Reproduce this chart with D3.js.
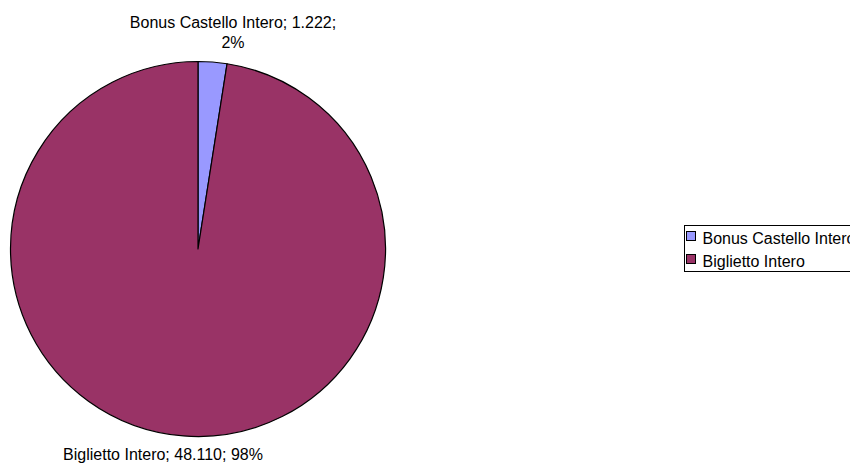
<!DOCTYPE html>
<html><head><meta charset="utf-8">
<script src="https://cdn.jsdelivr.net/npm/d3@7/dist/d3.min.js"></script>
<style>body{margin:0;background:#fff;overflow:hidden;} svg{display:block;font-family:"Liberation Sans",Arial,sans-serif;}</style>
</head><body>
<script>
const categories = ["Bonus Castello Intero", "Biglietto Intero"];
const values = [1222, 48110];
const valueLabels = ["1.222", "48.110"];
const percentLabels = ["2%", "98%"];
const colors = ["#9999FF", "#993366"];

const W = 850, H = 464;
const svg = d3.select("body").append("svg").attr("width", W).attr("height", H);
const cx = 198, cy = 249, r = 187.5;

const pie = d3.pie().sort(null).value(d => d)(values);
const arc = d3.arc().innerRadius(0).outerRadius(r);
const g = svg.append("g").attr("transform", `translate(${cx},${cy})`);
g.selectAll("path").data(pie).enter().append("path")
  .attr("d", arc).attr("fill", (d, i) => colors[i])
  .attr("stroke", "#000").attr("stroke-width", 1.2).attr("stroke-linejoin", "round");

// Labels
const fs = 16;
const t1 = svg.append("text").attr("text-anchor", "middle").attr("font-size", fs).attr("fill", "#000");
t1.append("tspan").attr("x", 233).attr("y", 28).text(`${categories[0]}; ${valueLabels[0]};`);
t1.append("tspan").attr("x", 233).attr("y", 48).text(percentLabels[0]);
svg.append("text").attr("text-anchor", "middle").attr("font-size", fs).attr("x", 163).attr("y", 460)
  .text(`${categories[1]}; ${valueLabels[1]}; ${percentLabels[1]}`);

// Legend
const lg = svg.append("g");
lg.append("rect").attr("x", 684.5).attr("y", 225.5).attr("width", 200).attr("height", 46)
  .attr("fill", "#fff").attr("stroke", "#000").attr("stroke-width", 1);
categories.forEach((c, i) => {
  const y = 231 + i * 23;
  lg.append("rect").attr("x", 686.5).attr("y", y + 0.5).attr("width", 9).attr("height", 9)
    .attr("fill", colors[i]).attr("stroke", "#000").attr("stroke-width", 1);
  lg.append("text").attr("x", 702.5).attr("y", y + 13).attr("font-size", fs).text(c);
});
</script>
</body></html>
